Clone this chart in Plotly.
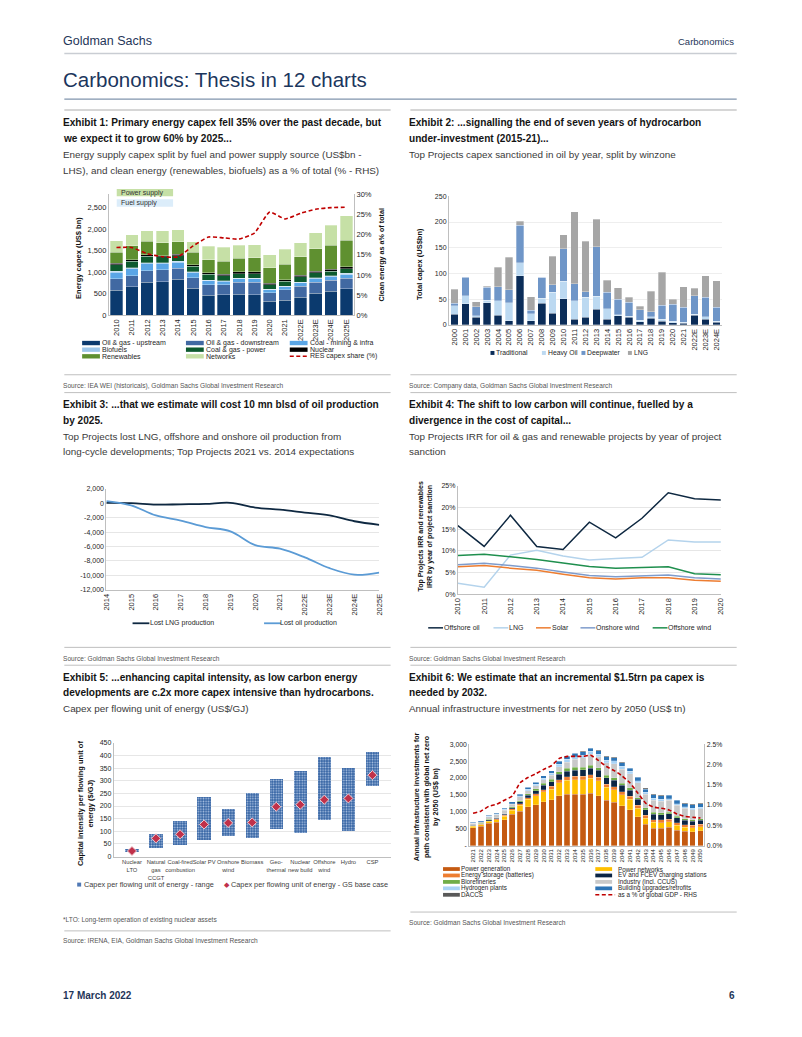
import plotly.graph_objects as go

W, H = 802, 1037
def X(p): return p / W
def Y(p): return 1 - p / H

NARROW = "Liberation Sans, Arial, sans-serif"
ARIAL = "Liberation Sans, Arial, sans-serif"
TXT = "#262626"

# ---------------- Exhibit 1 data (US$bn, share %)
ex1_years = ["2010", "2011", "2012", "2013", "2014", "2015", "2016", "2017", "2018", "2019",
             "2020", "2021", "2022E", "2023E", "2024E", "2025E"]
ex1_upstream = [580, 660, 760, 780, 830, 620, 460, 470, 490, 480, 320, 350, 420, 510, 560, 610]
ex1_downstream = [270, 260, 270, 270, 260, 250, 250, 240, 270, 280, 200, 240, 250, 250, 250, 250]
ex1_coal_mining = [150, 160, 170, 150, 140, 120, 90, 80, 80, 80, 70, 70, 80, 80, 80, 80]
ex1_biofuels = [20, 20, 20, 20, 20, 15, 15, 15, 15, 15, 15, 15, 20, 25, 25, 30]
ex1_coal_gas_power = [150, 150, 150, 130, 130, 130, 130, 110, 110, 110, 100, 110, 120, 120, 110, 110]
ex1_nuclear = [30, 30, 30, 30, 30, 30, 40, 40, 40, 40, 40, 40, 40, 40, 40, 40]
ex1_renewables = [260, 330, 310, 300, 290, 290, 300, 300, 310, 330, 360, 360, 430, 510, 560, 620]
ex1_networks = [270, 250, 250, 280, 280, 245, 315, 325, 305, 295, 295, 345, 320, 375, 455, 560]
ex1_res_share = [16.8, 16.8, 15.3, 14.5, 14.5, 17.2, 19.4, 19.2, 18.9, 20.4, 25.6, 23.9, 25.3, 26.3, 26.7, 26.8]
ex1_names = ["Oil & gas - upstream", "Oil & gas - downstream", "Coal - mining & infra", "Biofuels",
             "Coal & gas - power", "Nuclear", "Renewables", "Networks", "RES capex share (%)"]
ex1_left_ticks = [0, 500, 1000, 1500, 2000, 2500]
ex1_left_text = ["0", "500", "1,000", "1,500", "2,000", "2,500"]
ex1_right_ticks = [0, 5, 10, 15, 20, 25, 30]
ex1_right_text = ["0%", "5%", "10%", "15%", "20%", "25%", "30%"]

# ---------------- Exhibit 2 data (US$bn)
ex2_years = ["2000", "2001", "2002", "2003", "2004", "2005", "2006", "2007", "2008", "2009", "2010",
             "2011", "2012", "2013", "2014", "2015", "2016", "2017", "2018", "2019", "2020", "2021",
             "2022E", "2023E", "2024E"]
ex2_traditional = [21, 41, 15, 43, 19, 8, 96, 8, 42, 23, 51, 11, 15, 30, 11, 18, 15, 6, 13, 7, 4, 3, 19, 11, 5]
ex2_heavy_oil = [16, 16, 3, 5, 28, 35, 25, 14, 10, 40, 34, 36, 39, 26, 20, 2, 2, 3, 3, 4, 3, 2, 2, 5, 2]
ex2_deepwater = [5, 36, 17, 25, 27, 25, 73, 6, 41, 15, 63, 33, 10, 96, 32, 30, 27, 20, 10, 27, 33, 29, 36, 38, 27]
ex2_lng = [27, 1, 10, 2, 38, 64, 8, 27, 0, 55, 27, 140, 99, 53, 24, 22, 10, 7, 39, 64, 10, 40, 14, 42, 52]
ex2_names = ["Traditional", "Heavy Oil", "Deepwater", "LNG"]

# ---------------- Exhibit 3 data (kb/d)
ex3_years = ["2014", "2015", "2016", "2017", "2018", "2019", "2020", "2021", "2022E", "2023E", "2024E", "2025E"]
ex3_lng = [50, 20, -200, -150, -100, 50, -600, -900, -1300, -1700, -2500, -3000]
ex3_oil = [300, -300, -1700, -2400, -3300, -3900, -5800, -6300, -7500, -9000, -9900, -9600]
ex3_names = ["Lost LNG production", "Lost oil production"]
ex3_ticks = [-12000, -10000, -8000, -6000, -4000, -2000, 0, 2000]
ex3_tick_text = ["-12,000", "-10,000", "-8,000", "-6,000", "-4,000", "-2,000", "0", "2,000"]

# ---------------- Exhibit 4 data (IRR %)
ex4_years = ["2010", "2011", "2012", "2013", "2014", "2015", "2016", "2017", "2018", "2019", "2020"]
ex4_offshore_oil = [15.8, 11.0, 18.2, 11.0, 10.3, 16.6, 13.0, 17.5, 23.4, 22.0, 21.7]
ex4_lng = [2.5, 1.6, 9.0, 10.1, 8.8, 7.9, 8.2, 8.5, 12.5, 12.0, 12.0]
ex4_solar = [6.3, 6.6, 6.0, 5.5, 4.6, 3.8, 3.5, 3.8, 3.8, 3.2, 3.0]
ex4_onshore_wind = [6.8, 7.1, 6.6, 6.0, 5.1, 4.3, 4.0, 4.2, 4.4, 3.8, 3.5]
ex4_offshore_wind = [8.9, 9.2, 8.6, 8.0, 7.2, 6.4, 6.0, 6.2, 6.3, 4.7, 4.5]
ex4_names = ["Offshore oil", "LNG", "Solar", "Onshore wind", "Offshore wind"]
ex4_ticks = [0, 5, 10, 15, 20, 25]
ex4_tick_text = ["0%", "5%", "10%", "15%", "20%", "25%"]

# ---------------- Exhibit 5 data (US$/GJ)
ex5_tech = ["Nuclear<br>LTO", "Natural<br>gas<br>CCGT", "Coal-fired<br>combustion", "Solar PV", "Onshore<br>wind",
            "Biomass", "Geo-<br>thermal", "Nuclear<br>new build", "Offshore<br>wind", "Hydro", "CSP"]
ex5_low = [16, 32, 45, 65, 82, 72, 110, 92, 143, 102, 278]
ex5_high = [29, 90, 140, 237, 190, 253, 305, 338, 395, 352, 412]
ex5_base = [22, 72, 88, 127, 133, 135, 197, 205, 225, 230, 322]
ex5_names = ["Capex per flowing unit of energy - range", "Capex per flowing unit of energy - GS base case"]

# ---------------- Exhibit 6 data (US$bn, % GDP)
ex6_years = [str(y) for y in range(2021, 2051)]
ex6_power_gen = [530, 570, 655, 695, 770, 930, 1015, 1145, 1210, 1300, 1350, 1475, 1515, 1515, 1515,
                 1545, 1475, 1340, 1290, 1180, 1055, 850, 635, 520, 510, 540, 450, 420, 410, 440]
ex6_power_net = [40, 45, 60, 70, 100, 120, 180, 220, 260, 290, 320, 380, 420, 440, 440,
                 450, 450, 380, 360, 330, 320, 260, 180, 170, 170, 160, 150, 130, 120, 120]
ex6_storage = [20, 20, 25, 25, 30, 35, 40, 50, 60, 70, 80, 90, 100, 100, 100,
               100, 100, 90, 90, 90, 90, 90, 80, 80, 80, 80, 80, 70, 70, 70]
ex6_ev = [10, 15, 20, 25, 30, 40, 60, 80, 100, 120, 140, 160, 170, 180, 190,
          200, 200, 200, 200, 190, 180, 170, 170, 160, 160, 160, 140, 130, 120, 120]
ex6_biorefineries = [10, 10, 15, 15, 20, 25, 30, 40, 50, 60, 70, 80, 80, 80, 80,
                     80, 80, 70, 70, 60, 60, 50, 50, 50, 50, 50, 50, 50, 50, 50]
ex6_industry = [45, 40, 75, 85, 100, 70, 120, 95, 95, 105, 115, 145, 185, 235, 275,
                330, 320, 365, 415, 415, 420, 435, 400, 360, 350, 350, 325, 305, 295, 295]
ex6_hydrogen = [10, 10, 15, 15, 20, 25, 30, 35, 40, 50, 60, 70, 80, 80, 80,
                80, 80, 80, 80, 80, 70, 70, 60, 60, 50, 50, 50, 40, 40, 40]
ex6_buildings = [20, 25, 30, 35, 40, 50, 50, 60, 60, 70, 80, 100, 100, 100, 100,
                 100, 100, 100, 100, 100, 100, 100, 100, 100, 100, 100, 100, 100, 100, 100]
ex6_daccs = [5, 5, 5, 5, 5, 5, 5, 5, 5, 5, 5, 10, 10, 10, 10,
             15, 15, 15, 15, 15, 15, 15, 15, 15, 15, 15, 15, 15, 15, 15]
ex6_gdp_share = [0.80, 0.85, 0.97, 1.02, 1.12, 1.22, 1.55, 1.68, 1.77, 1.88, 1.97, 2.15, 2.20, 2.20, 2.20,
                 2.23, 2.10, 1.95, 1.85, 1.72, 1.55, 1.30, 1.05, 0.95, 0.92, 0.88, 0.78, 0.72, 0.70, 0.68]
ex6_names = ["Power generation", "Power networks", "Energy storage (batteries)", "EV and FCEV charging stations",
             "Biorefineries", "Industry (incl. CCUS)", "Hydrogen plants", "Building upgrades/retrofits",
             "DACCS", "as a % of global GDP - RHS"]
ex6_left_ticks = [0, 500, 1000, 1500, 2000, 2500, 3000]
ex6_left_text = ["-", "500", "1,000", "1,500", "2,000", "2,500", "3,000"]
ex6_right_ticks = [0, 0.5, 1.0, 1.5, 2.0, 2.5]
ex6_right_text = ["0.0%", "0.5%", "1.0%", "1.5%", "2.0%", "2.5%"]

fig = go.Figure()
shapes, annots = [], []

def text(x, y, s, size=8, color=TXT, family=ARIAL, anchor="left", bold=False, angle=0):
    if bold:
        s = "<b>" + s + "</b>"
    if anchor == "left":
        x -= 3
    elif anchor == "right":
        x += 3
    annots.append(dict(x=X(x), y=Y(y), xref="paper", yref="paper", text=s, showarrow=False,
                       xanchor=anchor, yanchor="middle", textangle=angle,
                       font=dict(family=family, size=size, color=color)))

def hline(x0, x1, y, color="#bfbfbf", width=1):
    shapes.append(dict(type="line", xref="paper", yref="paper", x0=X(x0), x1=X(x1), y0=Y(y), y1=Y(y),
                       line=dict(color=color, width=width)))

def rect(x0, x1, y0, y1, color):
    shapes.append(dict(type="rect", xref="paper", yref="paper", x0=X(x0), x1=X(x1), y0=Y(y1), y1=Y(y0),
                       fillcolor=color, line=dict(width=0), layer="above"))

def seg(x0, x1, y, color, width=1.5, dash="solid"):
    shapes.append(dict(type="line", xref="paper", yref="paper", x0=X(x0), x1=X(x1), y0=Y(y), y1=Y(y),
                       line=dict(color=color, width=width, dash=dash)))

# ---------------- Exhibit 1 traces
ex1_colors = ["#0b3a6e", "#4169a2", "#5aa6e6", "#9cc6ea", "#0d5a2e", "#000000", "#5f9030", "#c6e0a6"]
ex1_series = [ex1_upstream, ex1_downstream, ex1_coal_mining, ex1_biofuels, ex1_coal_gas_power,
              ex1_nuclear, ex1_renewables, ex1_networks]
for name, vals, col in zip(ex1_names, ex1_series, ex1_colors):
    fig.add_trace(go.Bar(x=ex1_years, y=vals, name=name, width=0.82, xaxis="x", yaxis="y",
                         marker=dict(color=col, line=dict(color="white", width=0.3))))
fig.add_trace(go.Scatter(x=ex1_years, y=ex1_res_share, name=ex1_names[8], mode="lines", xaxis="x", yaxis="y2",
                         line=dict(color="#c00000", width=1.6, dash="4px,2.5px", shape="spline", smoothing=0.5)))

# ---------------- Exhibit 2 traces
ex2_colors = ["#0b2d59", "#bcd9f1", "#6f96c8", "#a6a6a6"]
for name, vals, col in zip(ex2_names, [ex2_traditional, ex2_heavy_oil, ex2_deepwater, ex2_lng], ex2_colors):
    fig.add_trace(go.Bar(x=ex2_years, y=vals, name=name, width=0.7, xaxis="x2", yaxis="y3",
                         marker=dict(color=col, line=dict(color="white", width=0.3))))

# ---------------- Exhibit 3 traces
ex3_colors = ["#0e2841", "#5b9bd5"]
for name, vals, col in zip(ex3_names, [ex3_lng, ex3_oil], ex3_colors):
    fig.add_trace(go.Scatter(x=ex3_years, y=vals, name=name, mode="lines", xaxis="x3", yaxis="y4",
                             line=dict(color=col, width=1.8, shape="spline", smoothing=1.0)))

# ---------------- Exhibit 4 traces
ex4_colors = ["#0e2841", "#b4d3ec", "#ed7d31", "#7f9ccc", "#1f8f4e"]
ex4_series = [ex4_offshore_oil, ex4_lng, ex4_solar, ex4_onshore_wind, ex4_offshore_wind]
for name, vals, col in zip(ex4_names, ex4_series, ex4_colors):
    fig.add_trace(go.Scatter(x=ex4_years, y=vals, name=name, mode="lines", xaxis="x4", yaxis="y5",
                             line=dict(color=col, width=1.5)))

# ---------------- Exhibit 5 traces
ex5_span = [h - l for h, l in zip(ex5_high, ex5_low)]
fig.add_trace(go.Bar(x=ex5_tech, y=ex5_span, base=ex5_low, name=ex5_names[0], width=0.55, xaxis="x5", yaxis="y6",
                     marker=dict(color="#3463a3", line=dict(width=0),
                                 pattern=dict(shape=".", bgcolor="#3463a3", fgcolor="#b3c8e6", size=2.6,
                                              solidity=0.35, fillmode="replace"))))
fig.add_trace(go.Scatter(x=ex5_tech, y=ex5_base, name=ex5_names[1], mode="markers", xaxis="x5", yaxis="y6",
                         marker=dict(symbol="diamond", size=7, color="#c0314a", line=dict(color="#f2c9cf", width=1))))

# ---------------- Exhibit 6 traces
ex6_colors = ["#c55a11", "#ffc000", "#ed7d31", "#0b2545", "#70ad47", "#c9c9c9", "#a9d3f5", "#2e75b6", "#595959"]
ex6_series = [ex6_power_gen, ex6_power_net, ex6_storage, ex6_ev, ex6_biorefineries, ex6_industry,
              ex6_hydrogen, ex6_buildings, ex6_daccs]
for name, vals, col in zip(ex6_names, ex6_series, ex6_colors):
    fig.add_trace(go.Bar(x=ex6_years, y=vals, name=name, width=0.72, xaxis="x6", yaxis="y7",
                         marker=dict(color=col, line=dict(color="white", width=0.2))))
fig.add_trace(go.Scatter(x=ex6_years, y=ex6_gdp_share, name=ex6_names[9], mode="lines", xaxis="x6", yaxis="y8",
                         line=dict(color="#c00000", width=1.6, dash="4px,2.5px", shape="spline", smoothing=0.4)))

# ---------------- axes
def ax(**kw):
    d = dict(showgrid=False, zeroline=False, showline=True, linecolor="#bfbfbf", linewidth=1, ticks="",
             tickfont=dict(family=ARIAL, size=7.5, color=TXT), fixedrange=True)
    d.update(kw)
    return d

GRID = "#e6e6e6"
layout_axes = dict(
    xaxis=ax(domain=[X(105), X(353)], anchor="y", type="category", tickangle=-90),
    yaxis=ax(domain=[Y(314), Y(192)], anchor="x", range=[0, 2800], tickvals=ex1_left_ticks, ticktext=ex1_left_text),
    yaxis2=ax(overlaying="y", side="right", anchor="x", range=[0, 30], tickvals=ex1_right_ticks,
              ticktext=ex1_right_text),
    xaxis2=ax(domain=[X(449), X(725)], anchor="y3", type="category", tickangle=-90),
    yaxis3=ax(domain=[Y(323.7), Y(194)], anchor="x2", range=[0, 250], dtick=50, showgrid=True, gridcolor="#eeeeee",
              tickfont=dict(family=ARIAL, size=7, color=TXT)),
    xaxis3=ax(domain=[X(102.5), X(378.5)], anchor="y4", type="category", tickangle=-90),
    yaxis4=ax(domain=[Y(591), Y(489)], anchor="x3", range=[-12000, 2000], tickvals=ex3_ticks, ticktext=ex3_tick_text,
              showgrid=True, gridcolor=GRID, tickfont=dict(family=ARIAL, size=7, color=TXT)),
    xaxis4=ax(domain=[X(458), X(724)], anchor="y5", type="category", tickangle=-90),
    yaxis5=ax(domain=[Y(595.3), Y(486)], anchor="x4", range=[0, 25], tickvals=ex4_ticks, ticktext=ex4_tick_text,
              showgrid=True, gridcolor=GRID, tickfont=dict(family=ARIAL, size=7, color=TXT)),
    xaxis5=ax(domain=[X(110), X(390)], anchor="y6", type="category", tickangle=0,
              tickfont=dict(family=ARIAL, size=5.8, color="#404040")),
    yaxis6=ax(domain=[Y(860), Y(745.3)], anchor="x5", range=[0, 450], dtick=50, showgrid=True, gridcolor=GRID,
              tickfont=dict(family=ARIAL, size=7, color=TXT)),
    xaxis6=ax(domain=[X(469.4), X(707.3)], anchor="y7", type="category", tickangle=-90,
              tickfont=dict(family=ARIAL, size=6, color=TXT)),
    yaxis7=ax(domain=[Y(849), Y(746.7)], anchor="x6", range=[0, 3000], tickvals=ex6_left_ticks,
              ticktext=ex6_left_text, tickfont=dict(family=ARIAL, size=6.8, color=TXT)),
    yaxis8=ax(overlaying="y7", side="right", anchor="x6", range=[0, 2.5], tickvals=ex6_right_ticks,
              ticktext=ex6_right_text, tickfont=dict(family=ARIAL, size=6.8, color=TXT)),
)

# ---------------- page furniture
NAVY = "#1f3659"
text(60, 37, "Goldman Sachs", 12.5, NAVY, NARROW)
text(736, 38, "Carbonomics", 9.5, NAVY, NARROW, anchor="right")
hline(60, 740, 50, "#c9cdd3", 1.5)
text(60, 76, "Carbonomics: Thesis in 12 charts", 20.5, "#1b365d", NARROW)
hline(60, 740, 96, "#8094ad", 1.2)
for x0, x1 in [(60, 390), (410, 740)]:
    hline(x0, x1, 107, "#c8c8c8", 1.5)

TS, SS = 10.1, 9.9
TC, SC = "#141414", "#3a3a3a"
blocks = [
    (60, 120, ["Exhibit 1: Primary energy capex fell 35% over the past decade, but",
               "we expect it to grow 60% by 2025..."],
     ["Energy supply capex split by fuel and power supply source (US$bn -",
      "LHS), and clean energy (renewables, biofuels) as a % of total (% - RHS)"]),
    (410, 120, ["Exhibit 2: ...signalling the end of seven years of hydrocarbon",
                "under-investment (2015-21)..."],
     ["Top Projects capex sanctioned in oil by year, split by winzone"]),
    (60, 404, ["Exhibit 3: ...that we estimate will cost 10 mn blsd of oil production", "by 2025."],
     ["Top Projects lost LNG, offshore and onshore oil production from",
      "long-cycle developments; Top Projects 2021 vs. 2014 expectations"]),
    (410, 404, ["Exhibit 4: The shift to low carbon will continue, fuelled by a",
                "divergence in the cost of capital..."],
     ["Top Projects IRR for oil & gas and renewable projects by year of project", "sanction"]),
    (60, 679, ["Exhibit 5: ...enhancing capital intensity, as low carbon energy",
               "developments are c.2x more capex intensive than hydrocarbons."],
     ["Capex per flowing unit of energy (US$/GJ)"]),
    (410, 679, ["Exhibit 6: We estimate that an incremental $1.5trn pa capex is", "needed by 2032."],
     ["Annual infrastructure investments for net zero by 2050 (US$ tn)"]),
]
for x0, y0, titles, subs in blocks:
    y = y0
    for t in titles:
        text(x0, y, t, TS, TC, NARROW, bold=True)
        y += 16
    for s in subs:
        text(x0, y, s, SS, SC, NARROW)
        y += 15.5

SRC = 6.6
SRCC = "#555555"
hline(60, 390, 374); hline(410, 740, 374)
text(60, 385, "Source: IEA WEI (historicals), Goldman Sachs Global Investment Research", SRC, SRCC, NARROW)
text(410, 385, "Source: Company data, Goldman Sachs Global Investment Research", SRC, SRCC, NARROW)
hline(60, 390, 392); hline(410, 740, 392)
hline(60, 390, 649); hline(410, 740, 649)
text(60, 660, "Source: Goldman Sachs Global Investment Research", SRC, SRCC, NARROW)
text(410, 660, "Source: Goldman Sachs Global Investment Research", SRC, SRCC, NARROW)
hline(60, 390, 667); hline(410, 740, 667)
text(60, 924, "*LTO: Long-term operation of existing nuclear assets", SRC, SRCC, NARROW)
hline(60, 390, 935)
text(60, 945, "Source: IRENA, EIA, Goldman Sachs Global Investment Research", SRC, SRCC, NARROW)
hline(410, 740, 916)
text(410, 927, "Source: Goldman Sachs Global Investment Research", SRC, SRCC, NARROW)
text(60, 1000, "17 March 2022", 10, NAVY, NARROW, bold=True)
text(737, 1000, "6", 10, NAVY, NARROW, anchor="right", bold=True)

# ---------------- Exhibit 1 extras
rect(113, 170, 186.5, 194, "#c6e0a6")
text(118, 190.2, "Power supply", 7, "#333333")
rect(113, 170, 197, 204.5, "#dcedfa")
text(118, 200.8, "Fuel supply", 7, "#333333")
text(75, 256, "Energy capex (US$ bn)", 7.5, "#111111", bold=True, anchor="center", angle=-90)
text(381, 253, "Clean energy as a% of total", 7.2, "#111111", bold=True, anchor="center", angle=-90)
ex1_rows = [342, 348.7, 355.4]
ex1_cols = [78, 183, 288]
for i, name in enumerate(ex1_names):
    r, c = divmod(i, 3)
    x0, y0 = ex1_cols[c], ex1_rows[r]
    if i < 8:
        rect(x0, x0 + 18, y0 - 2.2, y0 + 2.2, ex1_colors[i])
    else:
        seg(x0, x0 + 18, y0, "#c00000", 1.6, "4px,2.5px")
    text(x0 + 21, y0, name, 7, TXT)

# ---------------- Exhibit 2 extras
text(419, 262, "Total capex (US$bn)", 7.5, "#111111", bold=True, anchor="center", angle=-90)
for name, col, mx in zip(ex2_names, ex2_colors, [493, 545, 585, 632]):
    rect(mx - 2, mx + 2, 350, 354, col)
    text(mx + 5, 352, name, 6.8, TXT)

# ---------------- Exhibit 3 extras
for name, col, (lx, tx) in zip(ex3_names, ex3_colors, [(129, 148), (262, 279)]):
    seg(lx, lx + 17, 624.7, col, 1.8)
    text(tx, 624.7, name, 7, TXT)

# ---------------- Exhibit 4 extras
text(425, 537, "Top Projects IRR and renewables<br>IRR by year of project sanction", 7, "#111111",
     bold=True, anchor="center", angle=-90)
for name, col, lx in zip(ex4_names, ex4_colors, [428, 494, 537, 582, 655]):
    seg(lx, lx + 15, 629.3, col, 1.5)
    text(lx + 17, 629.3, name, 7, TXT)

# ---------------- Exhibit 5 extras
text(81, 806, "Capital intensity per flowing unit of<br>energy ($/GJ)", 7.5, "#111111",
     bold=True, anchor="center", angle=-90)
rect(73, 77, 886.3, 890.3, "#5079b5")
text(81, 888.3, ex5_names[0], 7.3, "#404040")
text(225, 888.3, "\u25c6", 6.5, "#c0314a", anchor="center")
text(230, 888.3, ex5_names[1], 7.3, "#404040")

# ---------------- Exhibit 6 extras
text(426, 800, "Annual infrastructure investments for<br>path consistent with global net zero<br>by 2050 (US$ bn)",
     7.2, "#111111", bold=True, anchor="center", angle=-90)
ex6_rows = [872.6, 879.1, 885.6, 892.1, 898.6]
ex6_cols = [(443, 462), (597, 621)]
for i, name in enumerate(ex6_names):
    r, c = divmod(i, 2)
    sx, tx = ex6_cols[c]
    y0 = ex6_rows[r]
    if i < 9:
        rect(sx, sx + 17, y0 - 1.9, y0 + 1.9, ex6_colors[i])
    else:
        seg(sx, sx + 20, y0, "#c00000", 1.6, "4px,2.5px")
    text(tx, y0, name, 6.3, TXT)

fig.update_layout(
    width=W, height=H, margin=dict(l=0, r=0, t=0, b=0, pad=0), autosize=False,
    paper_bgcolor="white", plot_bgcolor="white", barmode="stack", showlegend=False,
    font=dict(family=ARIAL, size=7.5, color=TXT),
    shapes=shapes, annotations=annots, **layout_axes,
)
fig.write_html("out.html", config={"displayModeBar": False})
